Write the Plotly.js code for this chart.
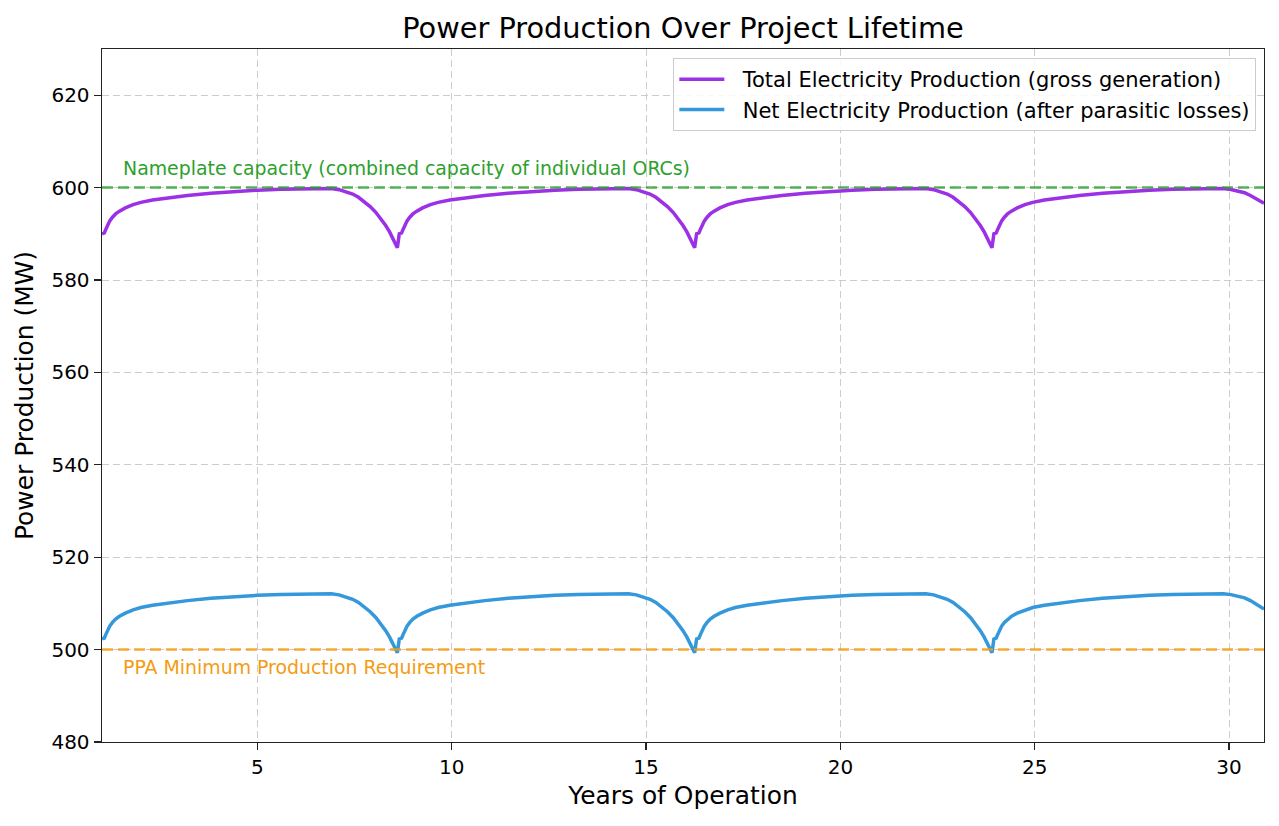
<!DOCTYPE html>
<html>
<head>
<meta charset="utf-8">
<script src="https://cdn.plot.ly/plotly-3.0.1.min.js"></script>
<style>
  html, body { margin: 0; padding: 0; background: #fff; }
  #plot_power { width: 1279px; height: 826px; }
</style>
</head>
<body>
<div id="plot_power"></div>
<script>
// years of operation (four ORC cycles)
var years = [
  1.0, 1.06, 1.1, 1.15, 1.2, 1.27, 1.35, 1.45, 1.6, 1.8, 2.0, 2.3, 2.7, 3.2, 3.8, 4.4, 5.0, 5.6, 6.2, 6.6,
  6.9, 7.1, 7.3, 7.45, 7.6, 7.75, 7.9, 8.05, 8.2, 8.3, 8.4, 8.5, 8.6,
  8.65, 8.71, 8.75, 8.8, 8.85, 8.92, 9.0, 9.1, 9.25, 9.45, 9.65, 9.95, 10.35, 10.85, 11.45, 12.05, 12.65, 13.25, 13.85, 14.25,
  14.55, 14.75, 14.95, 15.1, 15.25, 15.4, 15.55, 15.7, 15.85, 15.95, 16.05, 16.15, 16.25,
  16.3, 16.36, 16.4, 16.45, 16.5, 16.57, 16.65, 16.75, 16.9, 17.1, 17.3, 17.6, 18.0, 18.5, 19.1, 19.7, 20.3, 20.9, 21.5, 21.9,
  22.2, 22.4, 22.6, 22.75, 22.9, 23.05, 23.2, 23.35, 23.5, 23.6, 23.7, 23.8, 23.9,
  23.95, 24.01, 24.05, 24.1, 24.15, 24.22, 24.3, 24.4, 24.55, 24.75, 24.95, 25.25, 25.65, 26.15, 26.75, 27.35, 27.95, 28.55, 29.15, 29.55,
  29.85, 30.05, 30.25, 30.4, 30.55, 30.7, 30.9
];

// gross generation (MW)
var grossMW = [
  590.0, 590.2, 591.0, 592.0, 592.8, 593.6, 594.3, 594.9, 595.6, 596.3, 596.8, 597.3, 597.8, 598.3, 598.8, 599.15, 599.45, 599.65, 599.8, 599.85,
  599.8, 599.55, 599.1, 598.6, 597.9, 597.0, 595.9, 594.6, 593.0, 591.8, 590.4, 588.8, 587.0,
  590.0, 590.2, 591.0, 592.0, 592.8, 593.6, 594.3, 594.9, 595.6, 596.3, 596.8, 597.3, 597.8, 598.3, 598.8, 599.15, 599.45, 599.65, 599.8, 599.85,
  599.8, 599.55, 599.1, 598.6, 597.9, 597.0, 595.9, 594.6, 593.0, 591.8, 590.4, 588.8, 587.0,
  590.0, 590.2, 591.0, 592.0, 592.8, 593.6, 594.3, 594.9, 595.6, 596.3, 596.8, 597.3, 597.8, 598.3, 598.8, 599.15, 599.45, 599.65, 599.8, 599.85,
  599.8, 599.55, 599.1, 598.6, 597.9, 597.0, 595.9, 594.6, 593.0, 591.8, 590.4, 588.8, 587.0,
  590.0, 590.2, 591.0, 592.0, 592.8, 593.6, 594.3, 594.9, 595.6, 596.3, 596.8, 597.3, 597.8, 598.3, 598.8, 599.15, 599.45, 599.65, 599.8, 599.85,
  599.8, 599.6, 599.3, 598.9, 598.3, 597.6, 596.6
];

// net generation after parasitic losses (MW)
var netMW = [
  502.3, 502.5, 503.3, 504.3, 505.1, 505.9, 506.6, 507.2, 507.9, 508.6, 509.1, 509.6, 510.1, 510.6, 511.1, 511.45, 511.75, 511.95, 512.1, 512.15,
  512.1, 511.85, 511.4, 510.9, 510.2, 509.3, 508.2, 506.9, 505.3, 504.1, 502.7, 501.1, 499.3,
  502.3, 502.5, 503.3, 504.3, 505.1, 505.9, 506.6, 507.2, 507.9, 508.6, 509.1, 509.6, 510.1, 510.6, 511.1, 511.45, 511.75, 511.95, 512.1, 512.15,
  512.1, 511.85, 511.4, 510.9, 510.2, 509.3, 508.2, 506.9, 505.3, 504.1, 502.7, 501.1, 499.3,
  502.3, 502.5, 503.3, 504.3, 505.1, 505.9, 506.6, 507.2, 507.9, 508.6, 509.1, 509.6, 510.1, 510.6, 511.1, 511.45, 511.75, 511.95, 512.1, 512.15,
  512.1, 511.85, 511.4, 510.9, 510.2, 509.3, 508.2, 506.9, 505.3, 504.1, 502.7, 501.1, 499.3,
  502.3, 502.5, 503.3, 504.3, 505.1, 505.9, 506.6, 507.2, 507.9, 508.6, 509.1, 509.6, 510.1, 510.6, 511.1, 511.45, 511.75, 511.95, 512.1, 512.15,
  512.1, 511.9, 511.6, 511.2, 510.6, 509.9, 508.8
];

var nameplateMW = 600;
var ppaMinMW = 500;
var yTicks = [480, 500, 520, 540, 560, 580, 600, 620];
var xTicks = [5, 10, 15, 20, 25, 30];

var font_name = 'DejaVu Sans, Liberation Sans, sans-serif';
var xEnds = [years[0], years[years.length - 1]];
var pad = '\u00a0\u00a0'; // a bit of room between legend line and label

var trace_gross = {
  x: years,
  y: grossMW,
  name: pad + 'Total Electricity Production (gross generation)',
  type: 'scatter',
  mode: 'lines',
  line: {color: '#9b30e6', width: 3.5}
};

var trace_net = {
  x: years,
  y: netMW,
  name: pad + 'Net Electricity Production (after parasitic losses)',
  type: 'scatter',
  mode: 'lines',
  line: {color: '#3498db', width: 3.5}
};

// reference lines
var trace_nameplate = {
  x: xEnds,
  y: [nameplateMW, nameplateMW],
  type: 'scatter',
  mode: 'lines',
  showlegend: false,
  hoverinfo: 'skip',
  line: {color: 'rgba(44,160,44,0.8)', width: 2.5, dash: '11px,5px'}
};

var trace_ppa = {
  x: xEnds,
  y: [ppaMinMW, ppaMinMW],
  type: 'scatter',
  mode: 'lines',
  showlegend: false,
  hoverinfo: 'skip',
  line: {color: 'rgba(243,156,18,0.85)', width: 2.5, dash: '11px,5px'}
};

var data = [trace_gross, trace_net, trace_nameplate, trace_ppa];

var axis_common = {
  showline: true,
  mirror: true,
  linecolor: '#222',
  linewidth: 1.4,
  ticks: 'outside',
  ticklen: 7,
  tickwidth: 1.4,
  tickcolor: '#222',
  showgrid: true,
  gridcolor: '#cccccc',
  griddash: '7px,4px',
  gridwidth: 1,
  zeroline: false,
  tickfont: {family: font_name, size: 20, color: '#000'}
};

var layout = {
  width: 1279,
  height: 826,
  paper_bgcolor: '#fff',
  plot_bgcolor: '#fff',
  font: {family: font_name, color: '#000'},
  margin: {l: 102, r: 15, t: 49, b: 84},
  title: {
    text: 'Power Production Over Project Lifetime',
    font: {family: font_name, size: 28.8, color: '#000'},
    x: 0.5, xref: 'paper',
    y: 1 - 28 / 826, yref: 'container', yanchor: 'middle'
  },
  xaxis: Object.assign({}, axis_common, {
    range: xEnds,
    tickvals: xTicks,
    title: {text: 'Years of Operation', font: {family: font_name, size: 24.9}, standoff: 8}
  }),
  yaxis: Object.assign({}, axis_common, {
    range: [480, 630],
    tickvals: yTicks,
    title: {text: 'Power Production (MW)', font: {family: font_name, size: 24.9}, standoff: 10}
  }),
  showlegend: true,
  legend: {
    x: 0.9934, xanchor: 'right',
    y: 0.987, yanchor: 'top',
    bgcolor: 'rgba(255,255,255,0.85)',
    bordercolor: '#cccccc',
    borderwidth: 1,
    itemwidth: 45,
    font: {family: font_name, size: 21, color: '#000'}
  },
  annotations: [
    {
      x: 1.5, y: 604.2, xref: 'x', yref: 'y',
      text: 'Nameplate capacity (combined capacity of individual ORCs)',
      showarrow: false, xanchor: 'left', yanchor: 'middle',
      font: {family: font_name, size: 18.9, color: '#2ca02c'}
    },
    {
      x: 1.5, y: 496.2, xref: 'x', yref: 'y',
      text: 'PPA Minimum Production Requirement',
      showarrow: false, xanchor: 'left', yanchor: 'middle',
      font: {family: font_name, size: 18.9, color: '#f39c12'}
    }
  ]
};

Plotly.newPlot('plot_power', data, layout, {staticPlot: true, displayModeBar: false});
</script>
</body>
</html>
